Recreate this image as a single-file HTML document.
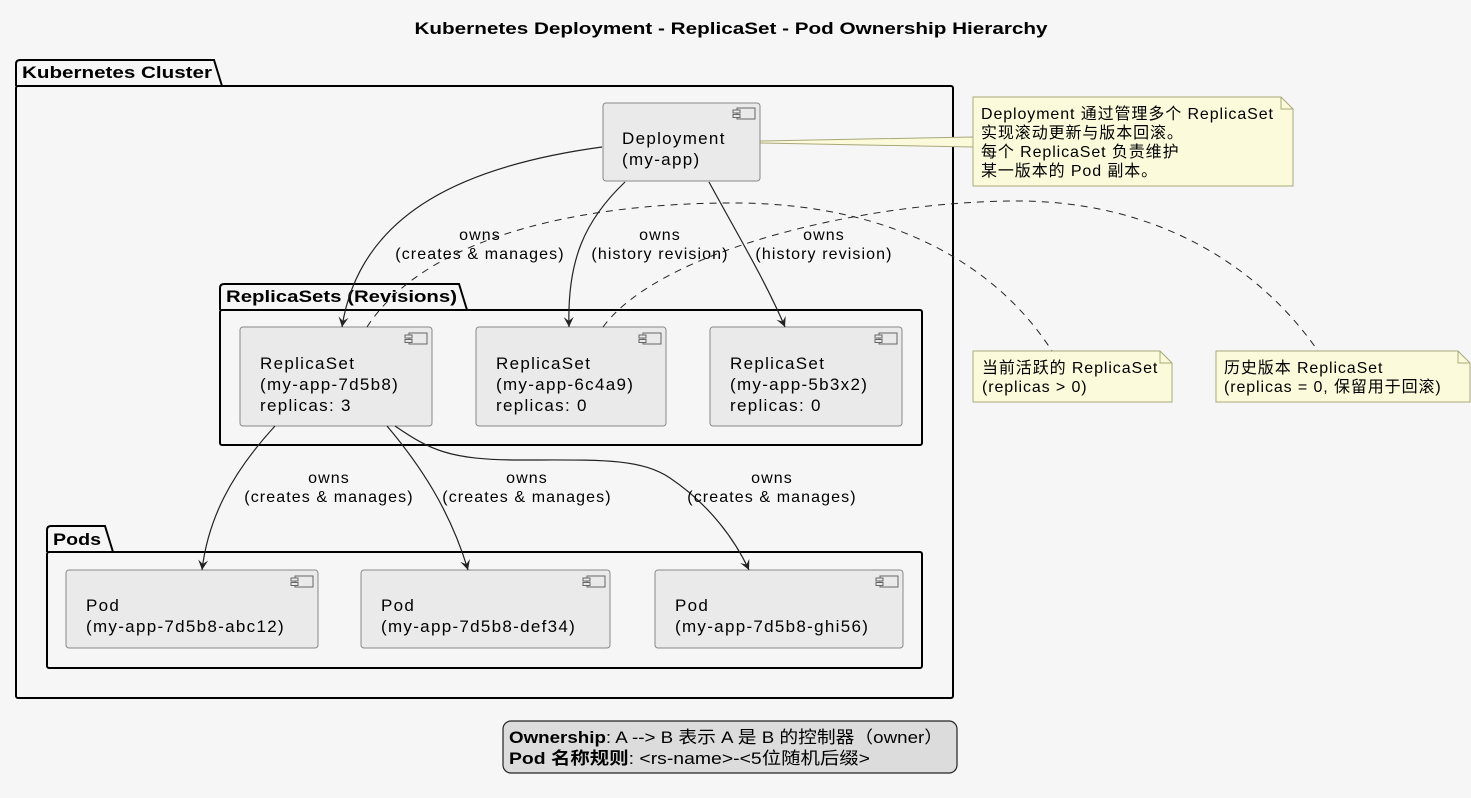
<!DOCTYPE html>
<html><head><meta charset="utf-8"><style>
html,body{margin:0;padding:0;background:#f6f6f6;}
svg{display:block;}
text{font-family:"Liberation Sans","Noto Sans CJK SC",sans-serif;fill:#000;}
.bx{font-size:17px;letter-spacing:1.3px;}
.lb{font-size:16px;letter-spacing:1.1px;}
.nt{font-size:16px;letter-spacing:0.9px;}
</style></head><body>
<svg width="1471" height="798" viewBox="0 0 1471 798" xmlns="http://www.w3.org/2000/svg">
<defs>
<marker id="ah" markerWidth="12" markerHeight="12" refX="10" refY="6" orient="auto" markerUnits="userSpaceOnUse">
<path d="M0,1 L10,6 L0,11 L4,6 Z" fill="#222"/>
</marker>
<g id="ic"><rect x="4" y="0" width="18" height="11" fill="#eaeaea" stroke="#666" stroke-width="1"/><rect x="0" y="2" width="7" height="3" fill="#eaeaea" stroke="#666"/><rect x="0" y="6.5" width="7" height="3" fill="#eaeaea" stroke="#666"/></g>
</defs>
<rect width="1471" height="798" fill="#f6f6f6"/>
<text x="731" y="34" text-anchor="middle" font-size="17" font-weight="bold" textLength="633" lengthAdjust="spacingAndGlyphs">Kubernetes Deployment - ReplicaSet - Pod Ownership Hierarchy</text>

<path d="M16,86 L16,64 Q16,60 20,60 L214,60 L222,86" fill="none" stroke="#000" stroke-width="2"/>
<rect x="16" y="86" width="937" height="612" fill="none" stroke="#000" stroke-width="2" rx="2"/>
<text x="22" y="78" font-size="17" font-weight="bold" textLength="190" lengthAdjust="spacingAndGlyphs">Kubernetes Cluster</text>

<path d="M220,310 L220,288 Q220,284 224,284 L459,284 L467,310" fill="none" stroke="#000" stroke-width="2"/>
<rect x="220" y="310" width="702" height="135" fill="none" stroke="#000" stroke-width="2" rx="2"/>
<text x="226" y="302" font-size="17" font-weight="bold" textLength="231" lengthAdjust="spacingAndGlyphs">ReplicaSets (Revisions)</text>

<path d="M47,552 L47,530 Q47,526 51,526 L105,526 L113,552" fill="none" stroke="#000" stroke-width="2"/>
<rect x="47" y="552" width="875" height="116" fill="none" stroke="#000" stroke-width="2" rx="2"/>
<text x="53" y="545" font-size="17" font-weight="bold" textLength="48" lengthAdjust="spacingAndGlyphs">Pods</text>

<path d="M760,141 L973,137 L973,147 L760,143 Z" fill="#fbfbdc" stroke="#a8a87a" stroke-width="1"/>

<rect x="603" y="103" width="157" height="78" rx="3" fill="#eaeaea" stroke="#888"/>
<use href="#ic" x="733" y="108"/>
<text class="bx" x="622" y="144">Deployment</text>
<text class="bx" x="622" y="165">(my-app)</text>

<rect x="240" y="327" width="192" height="99" rx="3" fill="#eaeaea" stroke="#888"/>
<use href="#ic" x="405" y="333"/>
<text class="bx" x="260" y="369">ReplicaSet</text>
<text class="bx" x="260" y="390">(my-app-7d5b8)</text>
<text class="bx" x="260" y="411">replicas: 3</text>

<rect x="476" y="327" width="190" height="99" rx="3" fill="#eaeaea" stroke="#888"/>
<use href="#ic" x="639" y="333"/>
<text class="bx" x="496" y="369">ReplicaSet</text>
<text class="bx" x="496" y="390">(my-app-6c4a9)</text>
<text class="bx" x="496" y="411">replicas: 0</text>

<rect x="710" y="327" width="192" height="99" rx="3" fill="#eaeaea" stroke="#888"/>
<use href="#ic" x="875" y="333"/>
<text class="bx" x="730" y="369">ReplicaSet</text>
<text class="bx" x="730" y="390">(my-app-5b3x2)</text>
<text class="bx" x="730" y="411">replicas: 0</text>

<rect x="66" y="570" width="252" height="78" rx="3" fill="#eaeaea" stroke="#888"/>
<use href="#ic" x="291" y="576"/>
<text class="bx" x="86" y="611">Pod</text>
<text class="bx" x="86" y="632">(my-app-7d5b8-abc12)</text>

<rect x="361" y="570" width="249" height="78" rx="3" fill="#eaeaea" stroke="#888"/>
<use href="#ic" x="583" y="576"/>
<text class="bx" x="381" y="611">Pod</text>
<text class="bx" x="381" y="632">(my-app-7d5b8-def34)</text>

<rect x="655" y="570" width="248" height="78" rx="3" fill="#eaeaea" stroke="#888"/>
<use href="#ic" x="876" y="576"/>
<text class="bx" x="675" y="611">Pod</text>
<text class="bx" x="675" y="632">(my-app-7d5b8-ghi56)</text>

<path d="M973,97 L1281,97 L1293,109 L1293,186 L973,186 Z" fill="#fbfbdc" stroke="#a8a87a"/>
<path d="M1281,97 L1281,109 L1293,109" fill="none" stroke="#a8a87a"/>
<text class="nt" x="981" y="119">Deployment 通过管理多个 ReplicaSet</text>
<text class="nt" x="981" y="138">实现滚动更新与版本回滚。</text>
<text class="nt" x="981" y="157">每个 ReplicaSet 负责维护</text>
<text class="nt" x="981" y="176">某一版本的 Pod 副本。</text>

<path d="M973,351 L1160,351 L1172,363 L1172,402 L973,402 Z" fill="#fbfbdc" stroke="#a8a87a"/>
<path d="M1160,351 L1160,363 L1172,363" fill="none" stroke="#a8a87a"/>
<text class="nt" x="982" y="373">当前活跃的 ReplicaSet</text>
<text class="nt" x="982" y="392">(replicas &gt; 0)</text>

<path d="M1216,351 L1458,351 L1470,363 L1470,402 L1216,402 Z" fill="#fbfbdc" stroke="#a8a87a"/>
<path d="M1458,351 L1458,363 L1470,363" fill="none" stroke="#a8a87a"/>
<text class="nt" x="1224" y="373">历史版本 ReplicaSet</text>
<text class="nt" x="1224" y="392">(replicas = 0, 保留用于回滚)</text>

<path d="M367,327 C430,230 600,202 740,203 C900,205 1000,270 1052,351" fill="none" stroke="#222" stroke-width="1" stroke-dasharray="7,6"/>
<path d="M603,327 C660,250 860,203 1010,201 C1160,199 1262,270 1318,351" fill="none" stroke="#222" stroke-width="1" stroke-dasharray="7,6"/>

<g fill="none" stroke="#222" stroke-width="1.2" marker-end="url(#ah)">
<path d="M602,147 C470,165 360,210 342,327"/>
<path d="M625,182 C585,220 567,260 569,327"/>
<path d="M709,182 C735,230 765,280 785,327"/>
<path d="M275,426 C230,475 208,520 202,570"/>
<path d="M387,426 C420,465 450,510 468,570"/>
<path d="M395,426 C430,450 450,460 520,460 C600,460 640,458 670,478 C710,505 735,540 749,570"/>
</g>

<g class="lb" text-anchor="middle">
<text x="480" y="240">owns</text><text x="480" y="259">(creates &amp; manages)</text>
<text x="660" y="240">owns</text><text x="660" y="259">(history revision)</text>
<text x="824" y="240">owns</text><text x="824" y="259">(history revision)</text>
<text x="329" y="483">owns</text><text x="329" y="502">(creates &amp; manages)</text>
<text x="527" y="483">owns</text><text x="527" y="502">(creates &amp; manages)</text>
<text x="772" y="483">owns</text><text x="772" y="502">(creates &amp; manages)</text>
</g>

<rect x="503" y="721" width="454" height="52" rx="8" fill="#dcdcdc" stroke="#222" stroke-width="1.2"/>
<text x="509" y="743" font-size="17" textLength="434" lengthAdjust="spacingAndGlyphs"><tspan font-weight="bold">Ownership</tspan>: A --&gt; B 表示 A 是 B 的控制器（owner）</text>
<text x="509" y="764" font-size="17" textLength="361" lengthAdjust="spacingAndGlyphs"><tspan font-weight="bold">Pod 名称规则</tspan>: &lt;rs-name&gt;-&lt;5位随机后缀&gt;</text>
</svg>
</body></html>
